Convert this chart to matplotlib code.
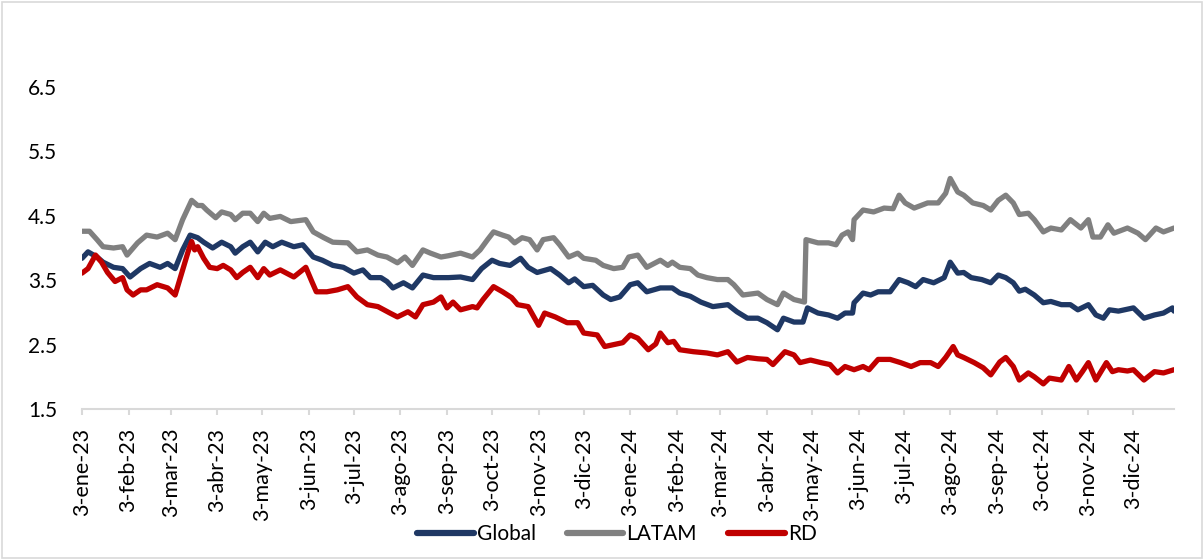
import numpy as np
import pandas as pd
import matplotlib
matplotlib.use("Agg")
import matplotlib.pyplot as plt
from matplotlib.patches import Rectangle

START = pd.Timestamp("2023-01-03")

# days since 3-ene-23, value
global_day = [0, 4, 10, 14, 21, 27, 32, 39, 45, 52, 57, 62, 67, 72, 77, 81, 87, 93, 99, 102,
              107, 112, 117, 122, 127, 133, 141, 147, 154, 160, 167, 174, 181, 187, 192, 199, 203,
              207, 214, 220, 227, 234, 244, 252, 260, 266, 273, 278, 285, 292, 297, 303, 312, 318,
              324, 328, 334, 340, 347, 352, 358, 365, 370, 376, 385, 393, 398, 405, 412, 420, 430,
              436, 443, 450, 456, 463, 467, 474, 480, 483, 490, 497, 503, 508, 513, 514, 520, 525,
              530, 538, 544, 550, 555, 560, 567, 574, 578, 583, 587, 592, 599, 605, 610, 615, 620,
              624, 628, 634, 640, 645, 652, 658, 663, 670, 675, 680, 684, 690, 700, 707, 714, 720,
              726, 727]
global_val = [3.84, 3.94, 3.86, 3.78, 3.70, 3.68, 3.55, 3.68, 3.76, 3.70, 3.76, 3.68, 3.97, 4.20,
              4.16, 4.09, 4.00, 4.09, 4.02, 3.92, 4.02, 4.09, 3.94, 4.09, 4.02, 4.09, 4.02, 4.05,
              3.86, 3.81, 3.73, 3.70, 3.61, 3.66, 3.54, 3.54, 3.48, 3.38, 3.46, 3.38, 3.58, 3.54,
              3.54, 3.55, 3.51, 3.68, 3.81, 3.76, 3.73, 3.84, 3.70, 3.62, 3.68, 3.58, 3.46, 3.52,
              3.40, 3.42, 3.27, 3.20, 3.24, 3.43, 3.46, 3.32, 3.38, 3.38, 3.30, 3.25, 3.16, 3.09,
              3.12, 3.01, 2.91, 2.91, 2.84, 2.73, 2.91, 2.85, 2.85, 3.07, 2.99, 2.96, 2.91, 2.99,
              2.99, 3.15, 3.30, 3.27, 3.32, 3.32, 3.51, 3.46, 3.40, 3.51, 3.46, 3.54, 3.78, 3.61,
              3.62, 3.54, 3.51, 3.46, 3.58, 3.54, 3.46, 3.33, 3.36, 3.27, 3.15, 3.17, 3.12, 3.12,
              3.04, 3.12, 2.96, 2.91, 3.04, 3.02, 3.07, 2.91, 2.96, 2.99, 3.07, 3.02]

latam_day = [0, 5, 10, 14, 21, 27, 30, 37, 43, 50, 57, 62, 67, 70, 73, 77, 80, 83, 89, 93, 99,
             102, 107, 112, 117, 121, 125, 132, 139, 149, 154, 161, 167, 177, 183, 190, 197, 203,
             210, 215, 220, 227, 232, 239, 244, 252, 260, 265, 270, 274, 280, 284, 288, 293, 298,
             303, 307, 314, 318, 324, 330, 334, 342, 347, 354, 360, 364, 370, 376, 385, 390, 393,
             398, 405, 410, 416, 423, 430, 434, 440, 450, 456, 463, 467, 474, 481, 482, 490, 497,
             502, 506, 510, 513, 514, 520, 527, 534, 540, 544, 548, 554, 563, 570, 575, 578, 583,
             587, 593, 600, 605, 610, 615, 620, 624, 630, 634, 640, 645, 652, 658, 665, 670, 673,
             678, 683, 687, 696, 703, 708, 715, 720, 727]
latam_val = [4.26, 4.26, 4.13, 4.02, 4.00, 4.02, 3.89, 4.08, 4.20, 4.17, 4.23, 4.13, 4.44, 4.59,
             4.74, 4.66, 4.66, 4.59, 4.47, 4.56, 4.52, 4.44, 4.54, 4.54, 4.41, 4.54, 4.46, 4.49,
             4.41, 4.44, 4.25, 4.16, 4.09, 4.08, 3.94, 3.97, 3.89, 3.86, 3.77, 3.86, 3.73, 3.97,
             3.92, 3.86, 3.88, 3.92, 3.86, 3.97, 4.13, 4.25, 4.20, 4.17, 4.08, 4.16, 4.13, 3.97,
             4.13, 4.16, 4.05, 3.86, 3.92, 3.84, 3.81, 3.73, 3.68, 3.70, 3.86, 3.89, 3.70, 3.81,
             3.73, 3.78, 3.70, 3.68, 3.58, 3.54, 3.51, 3.51, 3.43, 3.27, 3.30, 3.20, 3.12, 3.30,
             3.20, 3.16, 4.13, 4.08, 4.08, 4.05, 4.20, 4.25, 4.13, 4.44, 4.59, 4.56, 4.62, 4.61,
             4.82, 4.70, 4.62, 4.70, 4.70, 4.85, 5.08, 4.87, 4.82, 4.70, 4.66, 4.59, 4.74, 4.82,
             4.70, 4.52, 4.54, 4.44, 4.25, 4.31, 4.28, 4.44, 4.31, 4.44, 4.17, 4.17, 4.36, 4.23,
             4.31, 4.23, 4.13, 4.31, 4.25, 4.31]

rd_day = [0, 4, 9, 13, 17, 22, 27, 30, 34, 39, 43, 50, 57, 62, 67, 71, 73, 75, 77, 81, 85, 90,
          94, 99, 103, 107, 112, 117, 121, 125, 132, 141, 149, 153, 156, 163, 170, 177, 183, 190,
          197, 205, 210, 217, 222, 227, 234, 239, 243, 247, 252, 260, 263, 267, 274, 280, 286,
          290, 297, 304, 308, 315, 323, 330, 334, 343, 348, 354, 360, 365, 370, 377, 382, 385,
          390, 394, 398, 407, 416, 423, 430, 436, 443, 450, 456, 460, 468, 474, 478, 485, 492,
          498, 503, 508, 514, 520, 524, 530, 538, 545, 552, 558, 565, 570, 575, 580, 583, 587,
          594, 600, 605, 611, 615, 620, 624, 630, 634, 640, 644, 652, 657, 662, 666, 670, 675,
          682, 686, 690, 696, 700, 707, 714, 720, 727]
rd_val = [3.61, 3.68, 3.89, 3.78, 3.62, 3.48, 3.54, 3.35, 3.27, 3.35, 3.35, 3.43, 3.38, 3.27,
          3.66, 3.97, 4.10, 3.97, 4.02, 3.84, 3.70, 3.68, 3.73, 3.66, 3.54, 3.62, 3.70, 3.54,
          3.68, 3.58, 3.66, 3.55, 3.70, 3.48, 3.32, 3.32, 3.35, 3.40, 3.24, 3.12, 3.09, 2.99,
          2.93, 3.01, 2.93, 3.12, 3.16, 3.24, 3.07, 3.16, 3.04, 3.09, 3.07, 3.20, 3.40, 3.32,
          3.23, 3.12, 3.09, 2.80, 2.99, 2.93, 2.84, 2.84, 2.68, 2.65, 2.47, 2.50, 2.53, 2.65,
          2.60, 2.42, 2.51, 2.68, 2.53, 2.55, 2.42, 2.39, 2.37, 2.34, 2.39, 2.23, 2.30, 2.28,
          2.27, 2.19, 2.39, 2.34, 2.22, 2.26, 2.22, 2.19, 2.06, 2.16, 2.11, 2.16, 2.11, 2.27,
          2.27, 2.22, 2.16, 2.22, 2.22, 2.16, 2.30, 2.47, 2.34, 2.30, 2.22, 2.14, 2.03, 2.23,
          2.30, 2.16, 1.95, 2.06, 2.00, 1.89, 1.98, 1.95, 2.16, 1.95, 2.08, 2.22, 1.95, 2.22,
          2.08, 2.11, 2.09, 2.11, 1.95, 2.08, 2.06, 2.11]

month_abbr = ["ene", "feb", "mar", "abr", "may", "jun", "jul", "ago", "sep", "oct", "nov", "dic"]
years = [2023, 2024]
yticks = [1.5, 2.5, 3.5, 4.5, 5.5, 6.5]

C_GLOBAL = "#1F3864"
C_LATAM = "#808080"
C_RD = "#C00000"

plt.rcParams["font.family"] = ["Lato", "DejaVu Sans"]

W, H = 1204, 559
fig = plt.figure(figsize=(W / 100, H / 100), dpi=100)
ax = fig.add_axes([82 / W, (H - 409) / H, (1174 - 82) / W, (409 - 87) / H])
fig.patches.append(Rectangle((0.002, 0.002), 0.996, 0.994, transform=fig.transFigure,
                             fill=False, edgecolor="#d9d9d9", lw=1.2))


def to_dates(days):
    return START + pd.to_timedelta(np.array(days), unit="D")


for days, vals, col, name in [(global_day, global_val, C_GLOBAL, "Global"),
                              (latam_day, latam_val, C_LATAM, "LATAM"),
                              (rd_day, rd_val, C_RD, "RD")]:
    ax.plot(to_dates(days), vals, color=col, lw=3.8, label=name,
            solid_joinstyle="round", solid_capstyle="round")

ticks = [pd.Timestamp(y, m + 1, 3) for y in years for m in range(12)]
labels = [f"3-{month_abbr[t.month - 1]}-{str(t.year)[2:]}" for t in ticks]
ax.set_xticks(ticks)
ax.set_xticklabels(labels, rotation=90, fontsize=15.5)
ax.set_xlim(START, START + pd.Timedelta(days=727))

ax.set_ylim(1.5, 6.5)
ax.set_yticks(yticks)
ax.set_yticklabels([f"{v:.1f}" for v in yticks], fontsize=15)

for s in ("top", "right", "left"):
    ax.spines[s].set_visible(False)
ax.spines["bottom"].set_color("#d9d9d9")
ax.spines["bottom"].set_linewidth(1.5)
ax.tick_params(axis="y", length=0, pad=18)
ax.tick_params(axis="x", direction="out", length=4.5, width=1.5, color="#d9d9d9", pad=9)

leg = fig.legend(loc="center", bbox_to_anchor=(617 / W, 1 - 534 / H), ncol=3,
                 frameon=False, fontsize=15, handlelength=2.7, columnspacing=1.5,
                 handletextpad=0.15)
for h in leg.get_lines():
    h.set_linewidth(4.5)

fig.savefig("out.png", dpi=100)
